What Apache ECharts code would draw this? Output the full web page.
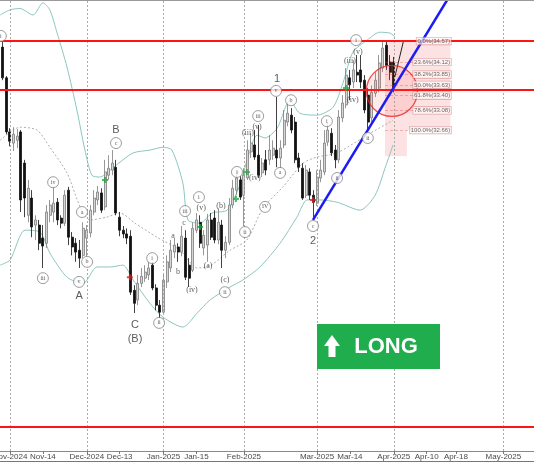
<!DOCTYPE html>
<html><head><meta charset="utf-8">
<script src="https://cdn.jsdelivr.net/npm/echarts@6/dist/echarts.min.js"></script>
<style>html,body{margin:0;padding:0;background:#fff}#c{width:534px;height:462px}</style>
</head><body><div id="c"></div>
<script>
// trading-day index of the first candle (0 = 1 Nov 2024)
const firstIndex = -2;
const opens = [34.44,33.78,32.62,32.38,32.44,32.62,31.95,30.83,31.20,30.62,30.62,30.34,30.23,30.83,30.90,31.11,30.77,30.66,31.37,30.36,30.23,30.08,29.97,30.34,30.45,30.90,31.16,31.31,31.01,31.69,31.80,31.86,30.79,30.51,30.43,30.38,29.22,29.01,29.37,29.48,29.55,29.76,29.27,28.90,28.75,29.40,29.70,30.04,30.15,30.04,30.34,29.76,29.65,30.51,30.68,30.13,30.19,30.73,30.77,30.30,30.62,30.08,30.25,31.05,31.37,31.59,31.26,31.63,32.19,32.34,32.12,31.74,32.02,32.02,32.12,32.23,32.06,32.34,32.83,32.98,32.83,32.06,31.84,31.26,31.76,31.26,31.09,31.63,31.76,32.40,32.59,32.23,32.02,32.92,33.20,33.78,33.69,33.90,33.95,33.73,33.41,32.92,33.45,33.56,33.99,34.48,34.12,34.12];
const closes = [33.78,32.62,32.42,32.57,32.53,31.16,31.20,31.41,30.58,30.73,30.23,30.17,30.90,31.05,31.09,30.73,30.66,31.26,30.36,30.15,30.04,29.91,30.55,30.51,30.94,31.20,31.33,30.94,31.76,31.84,31.95,30.88,30.51,30.43,30.34,29.18,28.94,29.37,29.52,29.61,29.70,29.27,28.90,28.75,29.44,29.83,30.08,30.19,30.04,30.38,29.50,29.48,30.55,30.73,30.23,30.40,30.73,30.36,30.30,30.68,30.08,30.25,31.05,31.41,31.63,31.22,31.69,32.23,32.38,32.08,31.69,31.95,31.80,32.23,32.27,32.06,32.27,32.87,33.02,32.66,32.02,31.86,31.20,31.80,31.26,31.11,31.65,31.80,32.38,32.66,32.17,32.02,32.94,33.24,33.84,33.63,33.95,33.84,33.69,33.09,32.83,33.47,33.73,34.10,34.42,34.05,33.90,33.56];
const lows = [33.73,32.57,32.31,32.21,32.27,30.90,30.79,30.68,30.36,30.30,30.08,29.70,30.13,30.68,30.68,30.62,30.55,30.60,30.19,29.97,29.83,29.70,29.91,29.95,30.36,30.83,31.05,30.88,30.94,31.59,31.69,30.83,30.38,30.34,30.21,29.12,28.73,28.90,29.29,29.40,29.44,29.22,28.79,28.62,28.69,29.27,29.61,29.91,29.83,29.95,29.44,29.29,29.61,30.45,30.13,29.97,29.83,30.30,30.23,30.21,29.70,29.91,30.19,30.98,31.26,31.16,30.60,31.59,32.06,32.02,31.63,31.65,31.69,31.91,32.02,31.86,31.84,32.27,32.74,32.59,31.95,31.76,31.16,31.20,31.16,30.77,31.03,31.54,31.69,32.32,32.10,31.84,31.95,32.83,33.13,33.30,33.56,33.69,33.56,33.02,32.66,32.79,33.37,33.47,33.90,33.95,33.73,33.47];
const highs = [34.55,33.82,32.70,32.72,32.68,32.66,32.02,31.59,31.37,30.83,30.73,30.62,31.05,31.16,31.44,31.20,30.83,31.37,31.44,30.47,30.34,30.30,30.68,30.62,31.05,31.37,31.46,31.41,32.02,32.12,32.23,32.02,30.90,30.60,30.55,30.51,29.33,29.55,29.70,29.76,29.83,29.83,29.35,29.01,29.55,29.97,30.30,30.34,30.23,30.60,30.51,29.91,30.68,30.88,30.83,30.51,30.86,30.88,30.94,30.98,30.73,30.38,31.20,31.59,31.80,31.67,31.84,32.44,32.59,32.66,32.77,32.06,32.23,32.55,32.44,33.37,32.44,33.09,33.24,33.13,32.94,32.17,31.95,31.91,31.84,31.37,31.80,32.02,32.66,32.83,32.70,32.34,33.09,33.41,33.99,33.95,34.16,34.27,34.27,33.84,33.56,33.62,33.90,34.27,34.59,34.57,34.27,34.23];

const upperBand = [[-2.7,35.13],[0,35.24],[2.7,35.27],[6.3,35.13],[9.0,35.39],[10.9,35.24],[12.9,34.74],[15.6,34.01],[18.3,33.09],[20.5,32.23],[22.4,31.69],[24.6,31.65],[27.4,31.80],[30.1,31.97],[33.7,32.17],[38.3,32.23],[41.9,32.29],[44.3,32.23],[47.3,31.52],[48.7,30.73],[52.0,30.66],[55.3,30.88],[59.4,30.94],[62.9,31.48],[65.1,32.08],[67.6,32.55],[69.8,32.49],[73.1,32.70],[76.6,33.30],[79.3,33.02],[84.0,32.98],[88.4,33.15],[91.1,33.67],[93.8,34.33],[97.7,34.59],[101.2,34.76],[104.0,34.74],[105.3,34.66]];
const middleBand = [[-2.7,32.44],[2.7,32.72],[7.4,32.66],[10.9,32.29],[15.6,31.74],[19.2,31.01],[21.9,30.73],[26.5,30.79],[30.1,30.88],[34.2,30.66],[40.2,30.36],[46.5,30.08],[51.2,29.70],[54.7,29.74],[60.2,30.08],[64.8,30.30],[69.2,30.98],[74.7,31.44],[80.2,31.95],[84.0,32.08],[89.5,32.17],[98.5,32.59],[104.8,32.87]];
const lowerBand = [[-2.7,29.76],[0,29.87],[4.1,30.51],[8.2,30.47],[10.9,30.02],[15.6,29.50],[20.0,29.37],[23.8,29.72],[27.4,29.72],[30.9,29.76],[33.7,29.44],[38.3,28.94],[41.9,28.64],[47.3,28.43],[51.2,28.73],[54.7,29.01],[60.2,29.29],[63.7,29.44],[68.4,29.72],[73.9,30.23],[78.5,30.79],[81.3,31.16],[84.8,31.16],[89.5,31.11],[95.8,30.94],[99.9,31.26],[102.6,31.84],[104.8,32.34]];

const tickPositions = [0,9,21,30,42,51,64,84,93,105,114,122,135,142];
const tickLabels = ['Nov-2024','Nov-14','Dec-2024','Dec-13','Jan-2025','Jan-15','Feb-2025','Mar-2025','Mar-14','Apr-2025','Apr-10','Apr-18','May-2025','May-08'];
const monthStarts = [0,21,42,64,84,105,135];

const redLevels = [34.57,33.52,26.29];
const fibLevels = [34.57,34.12,33.85,33.63,33.40,33.08,32.66];
const fibLabels = ['0.0%(34.57)','23.6%(34.12)','38.2%(33.85)','50.0%(33.63)','61.8%(33.40)','78.6%(33.08)','100.0%(32.66)'];
const fibBox = [[102.6,34.57],[120.5,32.66]];
const fibTail = [[102.6,32.66],[108.6,32.10]];
const fibLineEnd = 118.0;
const fibLabelAnchor = 120.7;
const trendLine = [[82.9,30.73],[119.6,35.45]];
const arrowLine = [[105.3,33.80],[107.6,34.55]];
const zoneCircle = [104.5,33.50];

const circledLabels = [[-2.5,34.68,'i'],[11.8,31.54,'iv'],[9.0,29.48,'iii'],[19.7,30.90,'a'],[18.9,29.40,'v'],[21.1,29.83,'b'],[29.0,32.38,'c'],[38.9,29.91,'i'],[40.8,28.52,'ii'],[47.9,30.92,'iii'],[51.7,31.22,'i'],[58.8,29.18,'ii'],[62.1,31.76,'i'],[64.3,30.47,'ii'],[67.9,32.96,'iii'],[69.8,31.01,'IV'],[72.8,33.50,'v'],[76.9,33.30,'b'],[73.9,31.74,'a'],[82.9,30.60,'c'],[86.7,32.85,'i'],[89.5,31.63,'ii'],[94.7,34.59,'i'],[97.9,32.49,'ii']];
const parenLabels = [[65.1,32.59,'(iii)'],[67.6,32.72,'(v)'],[67.0,31.63,'(iv)'],[52.3,30.98,'(v)'],[57.7,31.03,'(b)'],[54.2,29.74,'(a)'],[58.8,29.44,'(c)'],[49.8,29.22,'(iv)'],[93.0,34.14,'(iii)'],[95.2,34.33,'(v)'],[93.8,33.30,'(iv)']];
const waveLetters = [[18.9,29.09,'A'],[29.0,32.66,'B'],[34.2,28.47,'C'],[34.2,28.17,'(B)'],[73.1,33.75,'1'],[82.9,30.28,'2']];
const smallLetters = [[44.6,30.38,'a'],[46.0,29.61,'b'],[47.6,30.66,'c']];
const greenCrosses = [[26.0,31.59],[52.0,30.58],[61.8,31.18],[64.8,31.76],[91.9,33.56]];
const redCrosses = [[32.8,29.50],[82.9,31.16]];

const candles = opens.map((o,k)=>[firstIndex+k, o, closes[k], lows[k], highs[k]]);
const crossPath = 'path://M2,0H4V2H6V4H4V6H2V4H0V2H2Z';
const serif = '"Liberation Serif","DejaVu Serif",serif';
const sans = '"Liberation Sans",Arial,sans-serif';

const chart = echarts.init(document.getElementById('c'), null, {renderer:'canvas'});
chart.setOption({
  animation:false,
  backgroundColor:'#fff',
  grid:{left:0,right:0,top:1,bottom:11,containLabel:false,outerBoundsMode:'none'},
  xAxis:{type:'value',min:-2.736,max:143.37,
    axisLine:{show:true,lineStyle:{color:'#8a8a8a',width:1}},
    axisTick:{show:true,length:3,customValues:tickPositions,lineStyle:{color:'#777'}},
    axisLabel:{show:true,customValues:tickPositions,fontSize:8,color:'#4a4a4a',margin:2,fontFamily:sans,hideOverlap:false,
      formatter:v=>{const k=tickPositions.indexOf(Math.round(v));return k>=0?tickLabels[k]:'';}},
    splitLine:{show:false}},
  yAxis:{type:'value',min:25.77,max:35.43,show:false,splitLine:{show:false}},
  graphic:[
    {type:'line',shape:{x1:0,y1:0.5,x2:534,y2:0.5},style:{stroke:'#9a9a9a',lineWidth:1},z:100},
    {type:'line',shape:{x1:0,y1:461.5,x2:534,y2:461.5},style:{stroke:'#777',lineWidth:1},z:100},
    {type:'rect',shape:{x:317,y:324,width:123,height:45},style:{fill:'#20ad4e'},z:100},
    {type:'polygon',shape:{points:[[332,335],[340,346],[335.5,346],[335.5,357],[328.5,357],[328.5,346],[324,346]]},style:{fill:'#fff'},z:101},
    {type:'text',x:386,y:347,style:{text:'LONG',fill:'#fff',font:'bold 22px "Liberation Sans", Arial, sans-serif',align:'center',verticalAlign:'middle'},z:101}
  ],
  series:[
    {type:'line',name:'grid',data:[],z:0,silent:true,
      markLine:{silent:true,symbol:'none',label:{show:false},lineStyle:{color:'#aaaaaa',type:[2,2],width:1},
        data:monthStarts.map(v=>({xAxis:v}))},
      markArea:{silent:true,itemStyle:{color:'rgba(240,110,110,0.2)'},
        data:[[{coord:fibBox[0]},{coord:fibBox[1]}],[{coord:fibTail[0]},{coord:fibTail[1]}]]}},
    {type:'line',name:'fibLines',data:[],z:1,silent:true,
      markLine:{silent:true,symbol:'none',label:{show:false},lineStyle:{color:'rgba(220,70,70,0.45)',type:[3,2],width:0.8},
        data:fibLevels.slice(1).map(v=>[{coord:[fibBox[0][0],v]},{coord:[fibLineEnd,v]}])}},
    {type:'line',name:'upper',data:upperBand,showSymbol:false,smooth:0.25,z:2,lineStyle:{color:'#8cc6c0',width:1}},
    {type:'line',name:'middle',data:middleBand,showSymbol:false,smooth:0.25,z:2,lineStyle:{color:'#999',width:0.8,type:[2,2]}},
    {type:'line',name:'lower',data:lowerBand,showSymbol:false,smooth:0.25,z:2,lineStyle:{color:'#8cc6c0',width:1}},
    {type:'candlestick',name:'price',data:candles,encode:{x:0,y:[1,2,3,4]},barWidth:2.5,z:3,
      itemStyle:{color:'#d6d6d6',color0:'#111',borderColor:'#7c7c7c',borderColor0:'#111',borderWidth:0.8}},
    {type:'line',name:'levels',data:[],z:5,silent:true,
      markLine:{silent:true,symbol:'none',label:{show:false},lineStyle:{color:'#ff1414',type:'solid',width:2},
        data:redLevels.map(v=>({yAxis:v}))}},
    {type:'scatter',name:'zone',data:[zoneCircle],symbolSize:51,z:6,silent:true,
      itemStyle:{color:'rgba(255,70,70,0.14)',borderColor:'#ee2020',borderWidth:1.3}},
    {type:'line',name:'trend',data:trendLine,showSymbol:false,z:7,lineStyle:{color:'#1c1cf2',width:2.5}},
    {type:'line',name:'arrow',data:[],z:7,silent:true,
      markLine:{silent:true,symbol:['none','triangle'],symbolSize:[0,7],label:{show:false},
        lineStyle:{color:'#222',type:'solid',width:1},itemStyle:{color:'#222'},
        data:[[{coord:arrowLine[0]},{coord:arrowLine[1]}]]}},
    {type:'scatter',name:'fibText',data:fibLevels.map((v,k)=>[fibLabelAnchor,v,fibLabels[k]]),symbolSize:0,z:8,
      label:{show:true,position:'left',distance:0,formatter:p=>p.data[2],fontSize:6,color:'#444',fontFamily:sans,
        backgroundColor:'rgba(255,250,250,0.85)',borderColor:'rgba(200,90,90,0.6)',borderWidth:0.6,padding:[1,1,0,1]}},
    {type:'scatter',name:'circled',data:circledLabels,symbol:'circle',symbolSize:11,z:9,
      itemStyle:{color:'#fff',borderColor:'#666',borderWidth:0.8},
      label:{show:true,position:'inside',formatter:p=>p.data[2],fontSize:6,color:'#333',fontFamily:serif}},
    {type:'scatter',name:'paren',data:parenLabels,symbolSize:0,z:9,
      label:{show:true,position:'inside',formatter:p=>p.data[2],fontSize:8,color:'#333',fontFamily:serif}},
    {type:'scatter',name:'letters',data:waveLetters,symbolSize:0,z:9,
      label:{show:true,position:'inside',formatter:p=>p.data[2],fontSize:11,color:'#333',fontFamily:sans}},
    {type:'scatter',name:'small',data:smallLetters,symbolSize:0,z:9,
      label:{show:true,position:'inside',formatter:p=>p.data[2],fontSize:8,color:'#333',fontFamily:serif}},
    {type:'scatter',name:'green',data:greenCrosses,symbol:crossPath,symbolSize:6,z:9,itemStyle:{color:'#22a83a'}},
    {type:'scatter',name:'red',data:redCrosses,symbol:crossPath,symbolSize:6,z:9,itemStyle:{color:'#e01e1e'}}
  ]
});
</script></body></html>
